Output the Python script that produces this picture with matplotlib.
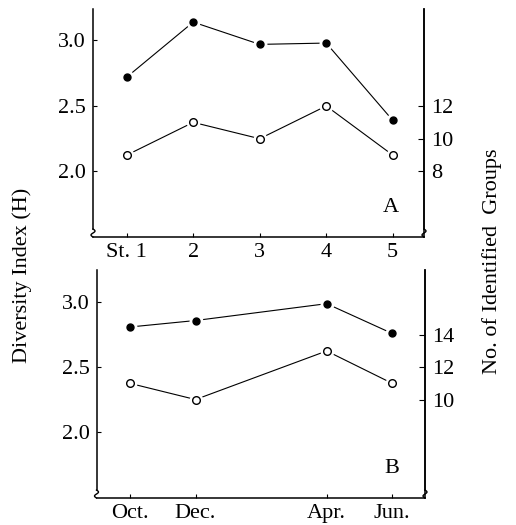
import numpy as np
import matplotlib.pyplot as plt

plt.rcParams['font.family'] = ['Liberation Serif', 'DejaVu Serif']

# Panel A: stations
stations = [1, 2, 3, 4, 5]
station_labels = ["St. 1", "2", "3", "4", "5"]
div_a = [2.72, 3.14, 2.97, 2.98, 2.39]
groups_a = [9, 11, 10, 12, 9]

# Panel B: months (months after October)
months = [0, 2, 6, 8]
month_labels = ["Oct.", "Dec.", "Apr.", "Jun."]
div_b = [2.81, 2.86, 2.99, 2.76]
groups_b = [11, 10, 13, 11]

W, H = 516, 525
fig = plt.figure(figsize=(W / 100, H / 100), dpi=100)

FS = 16


def to_groups(h):
    # right axis: 12 groups at H = 2.5, 8 groups per unit of H
    return 12 + 8 * (h - 2.5)


def squiggle(ax, xa):
    # small axis-break mark at the bottom of a vertical spine
    t = np.linspace(0, 1, 30)
    xs = xa + 0.006 * np.sin(t * 2 * np.pi)
    ys = 0.035 * (1 - t)
    ax.plot(xs, ys, color="black", lw=1.0, transform=ax.transAxes, clip_on=False)


def panel(rect, x, xlabels, xlim, ylim, div, grp, rticks, letter):
    ax = fig.add_axes(rect)
    ax.set_xlim(*xlim)
    ax.set_ylim(*ylim)
    ax2 = ax.twinx()
    ax2.set_ylim(to_groups(ylim[0]), to_groups(ylim[1]))

    ax.plot(x, div, color="black", lw=0.8, zorder=2)
    ax.plot(x, div, "o", color="white", ms=9, zorder=3)
    ax.plot(x, div, "o", color="black", ms=5, zorder=4)

    ax2.plot(x, grp, color="black", lw=0.8, zorder=2)
    ax2.plot(x, grp, "o", color="white", ms=9, zorder=3)
    ax2.plot(x, grp, "o", mfc="white", mec="black", mew=1.0, ms=5.5, zorder=4)

    for a in (ax, ax2):
        a.spines["top"].set_visible(False)
        for s in a.spines.values():
            s.set_linewidth(1.1)
    ax.spines["left"].set_bounds(ylim[0] + 0.035 * (ylim[1] - ylim[0]), ylim[1])
    lo2, hi2 = ax2.get_ylim()
    ax2.spines["right"].set_bounds(lo2 + 0.035 * (hi2 - lo2), hi2)
    ax2.spines["left"].set_visible(False)
    ax2.spines["bottom"].set_visible(False)
    squiggle(ax, 0)
    squiggle(ax, 1)

    ax.set_xticks(x)
    ax.set_xticklabels(xlabels)
    ax.set_yticks([2.0, 2.5, 3.0])
    ax.set_yticklabels(["2.0", "2.5", "3.0"])
    ax2.set_yticks(rticks)
    ax.tick_params(direction="in", length=3, width=0.8, labelsize=FS, pad=4)
    ax.tick_params(axis="y", pad=5)
    ax2.tick_params(direction="in", length=4, width=0.8, labelsize=FS, pad=5)

    ax.text(0.9, 0.13, letter, transform=ax.transAxes, fontsize=FS,
            ha="center", va="center")
    return ax


panel([93 / W, 1 - 237 / H, 331 / W, 228 / H], stations, station_labels,
      (0.493, 5.47), (1.50, 3.24), div_a, groups_a, [8, 10, 12], "A")
panel([96.5 / W, 1 - 498 / H, 328.5 / W, 228 / H], months, month_labels,
      (-1.02, 9.0), (1.49, 3.25), div_b, groups_b, [10, 12, 14], "B")

fig.text(22 / W, 1 - 275 / H, "Diversity Index (H)", rotation=90,
         ha="center", va="center", fontsize=FS)
fig.text(492 / W, 1 - 261 / H, "No. of Identified  Groups", rotation=90,
         ha="center", va="center", fontsize=FS)

fig.savefig("out.png", dpi=100)
